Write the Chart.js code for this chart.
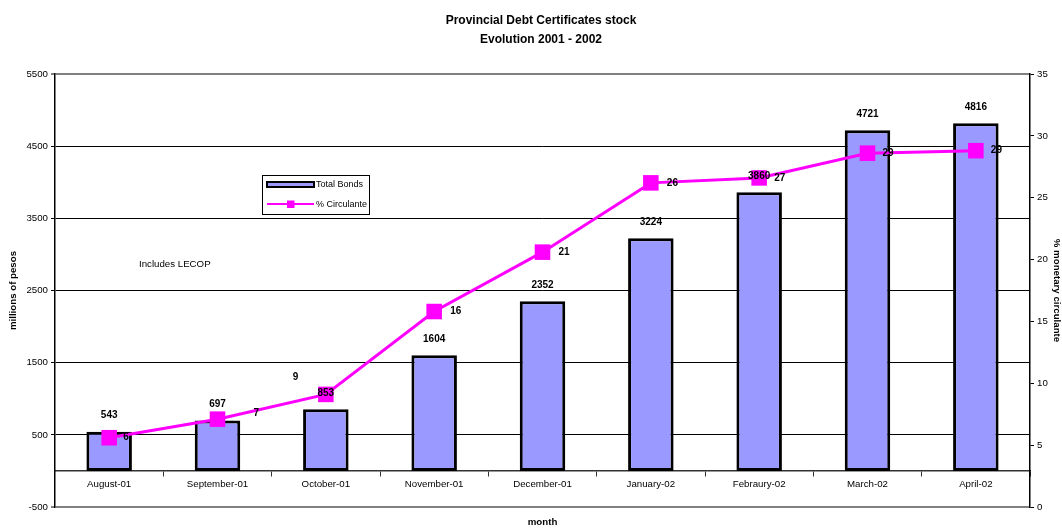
<!DOCTYPE html>
<html>
<head>
<meta charset="utf-8">
<title>Provincial Debt Certificates stock</title>
<script src="https://cdn.jsdelivr.net/npm/chart.js@4.4.1/dist/chart.umd.min.js"></script>
<style>
  html, body { margin: 0; padding: 0; background: #fff; }
  canvas { display: block; }
</style>
</head>
<body>
<canvas id="debt-chart" width="1062" height="530"></canvas>
<script>
const months = ['August-01', 'September-01', 'October-01', 'November-01', 'December-01',
  'January-02', 'Febraury-02', 'March-02', 'April-02'];
const totalBonds = [543, 697, 853, 1604, 2352, 3224, 3860, 4721, 4816];
const pctCirculante = [5.6, 7.1, 9.1, 15.8, 20.6, 26.2, 26.6, 28.6, 28.8];
const pesosTicks = [-500, 500, 1500, 2500, 3500, 4500, 5500];
const pctTicks = [0, 5, 10, 15, 20, 25, 30, 35];

// where each % label sits relative to its marker (left edge of text)
const pctLabelShift = [[14, 0], [36, -6], [-33, -17], [16, 0], [16, 0], [16, 0], [15, 0], [15, 0], [15, 0]];

const FONT = '"Liberation Sans", Arial, Helvetica, sans-serif';
const BAR_FILL = '#9999FF';
const LINE_COLOR = '#FF00FF';

const pesosMin = pesosTicks[0];
const pesosMax = pesosTicks[pesosTicks.length - 1];

const extras = {
  id: 'extras',
  afterDatasetsDraw(chart) {
    const ctx = chart.ctx;
    const bars = chart.getDatasetMeta(0).data;
    const points = chart.getDatasetMeta(1).data;
    ctx.save();
    ctx.fillStyle = '#000';
    ctx.textBaseline = 'middle';

    // value labels
    ctx.font = 'bold 10px ' + FONT;
    ctx.textAlign = 'center';
    bars.forEach((bar, i) => ctx.fillText(String(totalBonds[i]), bar.x, bar.y - 16));
    ctx.textAlign = 'left';
    points.forEach((pt, i) => {
      const [dx, dy] = pctLabelShift[i];
      ctx.fillText(String(Math.round(pctCirculante[i])), pt.x + dx, pt.y + dy);
    });

    // titles
    ctx.textAlign = 'center';
    ctx.font = 'bold 12px ' + FONT;
    ctx.fillText('Provincial Debt Certificates stock', 541, 21);
    ctx.fillText('Evolution 2001 - 2002', 541, 39.5);
    ctx.font = 'bold 9.7px ' + FONT;
    ctx.fillText('month', (chart.chartArea.left + chart.chartArea.right) / 2, 522);

    ctx.textAlign = 'left';
    ctx.font = '9.7px ' + FONT;
    ctx.fillText('Includes LECOP', 139, 264.5);

    // legend box
    ctx.fillStyle = '#fff';
    ctx.fillRect(262.5, 175.5, 107, 39);
    ctx.strokeStyle = '#000';
    ctx.lineWidth = 1;
    ctx.strokeRect(262.5, 175.5, 107, 39);

    ctx.fillStyle = BAR_FILL;
    ctx.fillRect(267, 182, 47, 5);
    ctx.lineWidth = 2;
    ctx.strokeRect(267, 182, 47, 5);

    ctx.strokeStyle = LINE_COLOR;
    ctx.beginPath();
    ctx.moveTo(267, 204);
    ctx.lineTo(314, 204);
    ctx.stroke();
    ctx.fillStyle = LINE_COLOR;
    ctx.fillRect(287, 200.5, 7.5, 7.5);

    ctx.fillStyle = '#000';
    ctx.font = '9px ' + FONT;
    ctx.fillText('Total Bonds', 316, 185);
    ctx.fillText('% Circulante', 316, 204.5);
    ctx.restore();
  }
};

new Chart(document.getElementById('debt-chart'), {
  type: 'bar',
  data: {
    labels: months,
    datasets: [
      {
        label: 'Total Bonds',
        data: totalBonds,
        yAxisID: 'y',
        order: 1,
        backgroundColor: BAR_FILL,
        borderColor: '#000',
        borderWidth: 3,
        borderSkipped: false,
        categoryPercentage: 1,
        barPercentage: 0.42,
      },
      {
        type: 'line',
        label: '% Circulante',
        data: pctCirculante,
        yAxisID: 'y1',
        order: 0,
        borderColor: LINE_COLOR,
        borderWidth: 3,
        tension: 0,
        pointStyle: 'rect',
        pointRadius: 11,
        pointBorderWidth: 0,
        pointBackgroundColor: LINE_COLOR,
      },
    ],
  },
  options: {
    responsive: false,
    animation: false,
    events: [],
    layout: { padding: { top: 74, bottom: 23, left: 0, right: 0 } },
    plugins: {
      legend: { display: false },
      tooltip: { enabled: false },
      title: { display: false },
    },
    scales: {
      x: {
        position: { y: 0 },
        offset: true,
        grid: { drawOnChartArea: false, offset: true, tickLength: 5, color: '#333', lineWidth: 1 },
        border: { color: '#333', width: 1.5 },
        ticks: { color: '#000', font: { family: FONT, size: 9.7 }, padding: 3, maxRotation: 0, autoSkip: false },
      },
      y: {
        position: 'left',
        min: pesosMin,
        max: pesosMax,
        ticks: {
          stepSize: pesosTicks[1] - pesosTicks[0],
          callback: v => String(v),
          color: '#000',
          font: { family: FONT, size: 9.7 },
          padding: 3,
        },
        grid: {
          color: c => (c.tick && (c.tick.value === pesosMin || c.tick.value === pesosMax)) ? '#808080' : '#000',
          lineWidth: c => (c.tick && (c.tick.value === pesosMin || c.tick.value === pesosMax)) ? 2 : 1,
          tickColor: '#000',
          tickWidth: 1,
          tickLength: 4,
        },
        border: { color: '#000', width: 1.5 },
        title: {
          display: true,
          text: 'millions of pesos',
          color: '#000',
          font: { family: FONT, size: 9.7, weight: 'bold' },
          padding: { top: 8, bottom: 0 },
        },
        afterFit(scale) { scale.width = 55; },
      },
      y1: {
        position: 'right',
        min: pctTicks[0],
        max: pctTicks[pctTicks.length - 1],
        ticks: {
          stepSize: pctTicks[1] - pctTicks[0],
          callback: v => String(v),
          color: '#000',
          font: { family: FONT, size: 9.7 },
          padding: 3,
        },
        grid: { drawOnChartArea: false, tickLength: 4, color: '#000', lineWidth: 1 },
        border: { color: '#000', width: 1.5 },
        title: {
          display: true,
          text: '% monetary circulante',
          color: '#000',
          font: { family: FONT, size: 9.7, weight: 'bold' },
          padding: { top: 0, bottom: 0 },
        },
        afterFit(scale) { scale.width = 32; },
      },
    },
  },
  plugins: [extras],
});
</script>
</body>
</html>
